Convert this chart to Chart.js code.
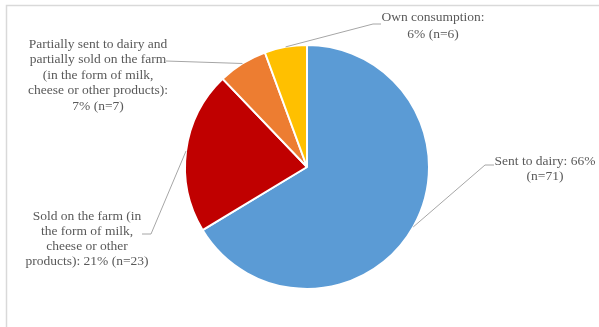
<!DOCTYPE html>
<html>
<head>
<meta charset="utf-8">
<script src="https://cdn.jsdelivr.net/npm/chart.js@4.4.0/dist/chart.umd.min.js"></script>
<style>
  html, body { margin: 0; padding: 0; background: #fff; }
  #wrap { position: relative; width: 599px; height: 327px; }
</style>
</head>
<body>
<div id="wrap"><canvas id="c" width="599" height="327"></canvas></div>
<script>
// Destination of milk produced on the farm
const categories = [
  'Sent to dairy',
  'Sold on the farm (in the form of milk, cheese or other products)',
  'Partially sent to dairy and partially sold on the farm (in the form of milk, cheese or other products)',
  'Own consumption'
];
const counts = [71, 23, 7, 6];
const percents = [66, 21, 7, 6];
const colors = ['#5B9BD5', '#C00000', '#ED7D31', '#FFC000'];

// Words per printed line for each callout
const wrapWords = [[4, 1], [5, 4, 3, 3], [5, 5, 5, 4, 2], [2, 2]];

// Callout layout: text centre, first line y, line height, elbow points of the leader
const callouts = [
  { cx: 545, y: 161, lh: 15,   path: [[485, 165], [494, 165]] },
  { cx: 87,  y: 216, lh: 15,   path: [[151, 234], [142, 234]] },
  { cx: 98,  y: 44,  lh: 15.6, path: [[166, 61]] },
  { cx: 433, y: 17,  lh: 17,   path: [[373, 24], [381, 24]] }
];

function labelLines(i) {
  const words = `${categories[i]}: ${percents[i]}% (n=${counts[i]})`.split(' ');
  const lines = [];
  let k = 0;
  for (const n of wrapWords[i]) {
    lines.push(words.slice(k, k + n).join(' '));
    k += n;
  }
  return lines;
}

const frame = {
  id: 'frame',
  beforeDraw(chart) {
    const ctx = chart.ctx;
    ctx.save();
    ctx.strokeStyle = '#d9d9d9';
    ctx.lineWidth = 1.5;
    ctx.beginPath();
    ctx.moveTo(6.5, 327);
    ctx.lineTo(6.5, 5.5);
    ctx.lineTo(599, 5.5);
    ctx.stroke();
    ctx.restore();
  }
};

const callout = {
  id: 'callout',
  afterDraw(chart) {
    const ctx = chart.ctx;
    const arcs = chart.getDatasetMeta(0).data;
    ctx.save();
    arcs.forEach((arc, i) => {
      const { x, y, startAngle, endAngle, outerRadius } = arc.getProps(['x', 'y', 'startAngle', 'endAngle', 'outerRadius'], true);
      const mid = (startAngle + endAngle) / 2;
      const ax = x + Math.cos(mid) * outerRadius;
      const ay = y + Math.sin(mid) * outerRadius;
      const c = callouts[i];
      ctx.strokeStyle = '#a6a6a6';
      ctx.lineWidth = 1;
      ctx.beginPath();
      ctx.moveTo(ax, ay);
      c.path.forEach(p => ctx.lineTo(p[0], p[1]));
      ctx.stroke();

      ctx.fillStyle = '#595959';
      ctx.font = '13.5px "Liberation Serif", "Times New Roman", serif';
      ctx.textAlign = 'center';
      ctx.textBaseline = 'middle';
      labelLines(i).forEach((t, j) => ctx.fillText(t, c.cx, c.y + j * c.lh));
    });
    ctx.restore();
  }
};

new Chart(document.getElementById('c'), {
  type: 'pie',
  data: {
    labels: categories,
    datasets: [{
      data: counts,
      backgroundColor: colors,
      borderColor: '#ffffff',
      borderWidth: 2
    }]
  },
  options: {
    responsive: false,
    animation: false,
    layout: { padding: { left: 184, top: 44, right: 169, bottom: 37 } },
    plugins: {
      legend: { display: false },
      tooltip: { enabled: false }
    }
  },
  plugins: [frame, callout]
});
</script>
</body>
</html>
